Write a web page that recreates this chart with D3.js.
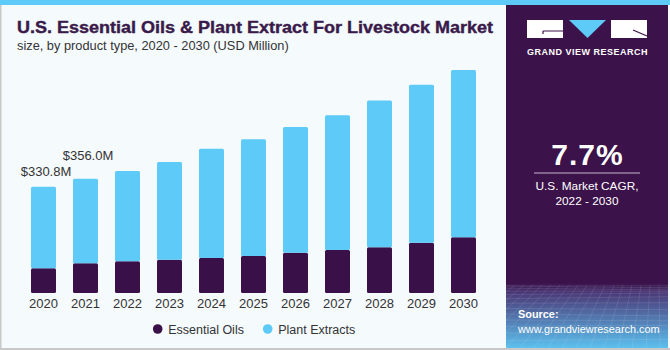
<!DOCTYPE html>
<html>
<head>
<meta charset="utf-8">
<script src="https://cdn.jsdelivr.net/npm/d3@7"></script>
<style>
  body { margin: 0; background: #fff; }
  svg text { font-family: "Liberation Sans", Arial, sans-serif; }
</style>
</head>
<body>
<div id="main"></div>
<script>
// --- chart data (USD Million)
const years = ['2020', '2021', '2022', '2023', '2024', '2025', '2026', '2027', '2028', '2029', '2030'];
const essentialOils = [77.0, 92.5, 98.8, 103.7, 109.0, 115.3, 125.5, 134.0, 142.4, 156.7, 173.5];
const plantExtracts = [253.8, 263.5, 281.2, 304.3, 340.5, 363.5, 391.5, 419.6, 457.6, 492.3, 521.2];
const seriesNames = ['Essential Oils', 'Plant Extracts'];
const totalLabels = ['$330.8M', '$356.0M'];

const colors = { oils: '#3a1049', plant: '#5dcaf7', panel: '#3b1249', bg: '#f5fafd' };

const width = 670, height = 350;

const svg = d3.select('#main')
  .append('svg')
  .attr('width', width)
  .attr('height', height);

// background + frame
svg.append('rect').attr('width', width).attr('height', height).attr('fill', colors.bg);
svg.append('rect').attr('x', 0).attr('y', 0).attr('width', 1.5).attr('height', height).attr('fill', '#c8c8c8');
svg.append('rect').attr('x', 0).attr('y', height - 2).attr('width', width).attr('height', 2).attr('fill', '#c8c8c8');
svg.append('rect').attr('x', 0).attr('y', 0).attr('width', width).attr('height', 5).attr('fill', colors.plant);

// title
svg.append('text')
  .attr('x', 17).attr('y', 33)
  .attr('font-size', 16.5).attr('font-weight', 'bold')
  .attr('textLength', 476).attr('lengthAdjust', 'spacingAndGlyphs')
  .attr('fill', '#3a1a4a')
  .attr('stroke', '#3a1a4a').attr('stroke-width', 0.4)
  .text('U.S. Essential Oils & Plant Extract For Livestock Market');
svg.append('text')
  .attr('x', 17).attr('y', 50)
  .attr('font-size', 12.8)
  .attr('fill', '#333')
  .text('size, by product type, 2020 - 2030 (USD Million)');

// scales
const xScale = d3.scaleBand()
  .domain(years)
  .range([22.5, 484.5])
  .paddingInner(0.405)
  .paddingOuter(0.2025);

const yScale = d3.scaleLinear()
  .domain([0, 700])
  .range([293, 68.3]);

const rows = years.map((y, i) => ({ year: y, oils: essentialOils[i], plant: plantExtracts[i] }));
const stacked = d3.stack().keys(['oils', 'plant'])(rows);

const bars = svg.append('g');
bars.selectAll('g')
  .data(stacked)
  .enter()
  .append('g')
  .attr('fill', d => colors[d.key])
  .selectAll('rect')
  .data(d => d)
  .enter()
  .append('rect')
  .attr('x', d => xScale(d.data.year))
  .attr('y', d => yScale(d[1]))
  .attr('width', xScale.bandwidth())
  .attr('height', d => yScale(d[0]) - yScale(d[1]))
  .attr('rx', 1.5);

// total labels for first two years
const labelOffsets = [10.5, 19];
svg.selectAll('.total')
  .data(totalLabels)
  .enter()
  .append('text')
  .attr('class', 'total')
  .attr('x', (d, i) => xScale(years[i]) + xScale.bandwidth() / 2 + 2.5)
  .attr('y', (d, i) => yScale(essentialOils[i] + plantExtracts[i]) - labelOffsets[i])
  .attr('text-anchor', 'middle')
  .attr('font-size', 13)
  .attr('fill', '#333')
  .text(d => d);

// x axis
const xAxis = svg.append('g')
  .attr('transform', 'translate(0, 293)')
  .call(d3.axisBottom(xScale).tickSize(0).tickPadding(6));
xAxis.select('.domain').remove();
xAxis.selectAll('text')
  .attr('font-size', 13)
  .attr('font-family', '"Liberation Sans", Arial, sans-serif')
  .attr('fill', '#333');

// legend
const legend = svg.append('g');
const legendX = [157.7, 267.7];
seriesNames.forEach((name, i) => {
  legend.append('circle')
    .attr('cx', legendX[i]).attr('cy', 329).attr('r', 4.8)
    .attr('fill', i === 0 ? colors.oils : colors.plant);
  legend.append('text')
    .attr('x', legendX[i] + 10.5).attr('y', 333.5)
    .attr('font-size', 12.5)
    .attr('fill', '#333')
    .text(name);
});

// right panel
const defs = svg.append('defs');
const grad = defs.append('linearGradient')
  .attr('id', 'panelGrad').attr('x1', 0).attr('y1', 0).attr('x2', 0).attr('y2', 1);
grad.append('stop').attr('offset', '0%').attr('stop-color', colors.panel);
grad.append('stop').attr('offset', '81%').attr('stop-color', colors.panel);
grad.append('stop').attr('offset', '84%').attr('stop-color', '#4a3a78');
grad.append('stop').attr('offset', '100%').attr('stop-color', '#5cc0ee');

const panelX = 506, panelW = 162, panelTop = 5, panelBottom = 348;
svg.append('rect')
  .attr('x', panelX).attr('y', panelTop)
  .attr('width', panelW).attr('height', panelBottom - panelTop)
  .attr('fill', 'url(#panelGrad)');

// mesh decoration in source area
const mesh = svg.append('g')
  .attr('stroke', '#ffffff').attr('stroke-opacity', 0.15).attr('stroke-width', 0.7).attr('fill', 'none');
const meshTop = 285;
d3.range(0, 14).forEach(k => {
  const t = k / 13;
  const yy = meshTop + Math.pow(t, 1.6) * (panelBottom - meshTop);
  mesh.append('line').attr('x1', panelX).attr('x2', panelX + panelW).attr('y1', yy).attr('y2', yy + 2 * Math.sin(k));
});
d3.range(-6, 22).forEach(k => {
  const xTop = panelX + k * 9;
  const xBot = panelX + (k - 6) * 14;
  mesh.append('line').attr('x1', xTop).attr('y1', meshTop).attr('x2', xBot).attr('y2', panelBottom);
});
svg.append('clipPath').attr('id', 'panelClip')
  .append('rect').attr('x', panelX).attr('y', meshTop).attr('width', panelW).attr('height', panelBottom - meshTop);
mesh.attr('clip-path', 'url(#panelClip)');

// logo
const logo = svg.append('g');
logo.append('rect').attr('x', 527).attr('y', 20).attr('width', 36).attr('height', 18).attr('fill', '#fff');
logo.append('path').attr('d', 'M543,31 H563 M543,31 V34').attr('stroke', colors.panel).attr('stroke-width', 1.2).attr('fill', 'none');
logo.append('path').attr('d', 'M569,20 L606,20 L587.5,38 Z').attr('fill', colors.plant);
logo.append('rect').attr('x', 611).attr('y', 20).attr('width', 36).attr('height', 18).attr('fill', '#fff');
logo.append('path').attr('d', 'M633,30 L647,36').attr('stroke', colors.panel).attr('stroke-width', 1.2);
logo.append('text')
  .attr('x', 587.5).attr('y', 55)
  .attr('text-anchor', 'middle')
  .attr('font-size', 9).attr('font-weight', 'bold')
  .attr('letter-spacing', 0.5)
  .attr('fill', '#fff')
  .text('GRAND VIEW RESEARCH');

// CAGR
svg.append('text')
  .attr('x', 587.5).attr('y', 165)
  .attr('text-anchor', 'middle')
  .attr('font-size', 30).attr('font-weight', 'bold')
  .attr('letter-spacing', 1)
  .attr('fill', '#fff')
  .text('7.7%');
svg.append('line')
  .attr('x1', 534).attr('x2', 640).attr('y1', 173).attr('y2', 173)
  .attr('stroke', '#c9b8d4').attr('stroke-width', 1);
svg.append('text')
  .attr('x', 587).attr('y', 190)
  .attr('text-anchor', 'middle')
  .attr('font-size', 11.8)
  .attr('fill', '#fff')
  .text('U.S. Market CAGR,');
svg.append('text')
  .attr('x', 587).attr('y', 205)
  .attr('text-anchor', 'middle')
  .attr('font-size', 11.8)
  .attr('fill', '#fff')
  .text('2022 - 2030');

// source
svg.append('text')
  .attr('x', 518).attr('y', 318)
  .attr('font-size', 10.9).attr('font-weight', 'bold')
  .attr('fill', '#fff')
  .text('Source:');
svg.append('text')
  .attr('x', 518).attr('y', 333)
  .attr('font-size', 10.9)
  .attr('fill', '#fff')
  .text('www.grandviewresearch.com');
</script>
</body>
</html>
